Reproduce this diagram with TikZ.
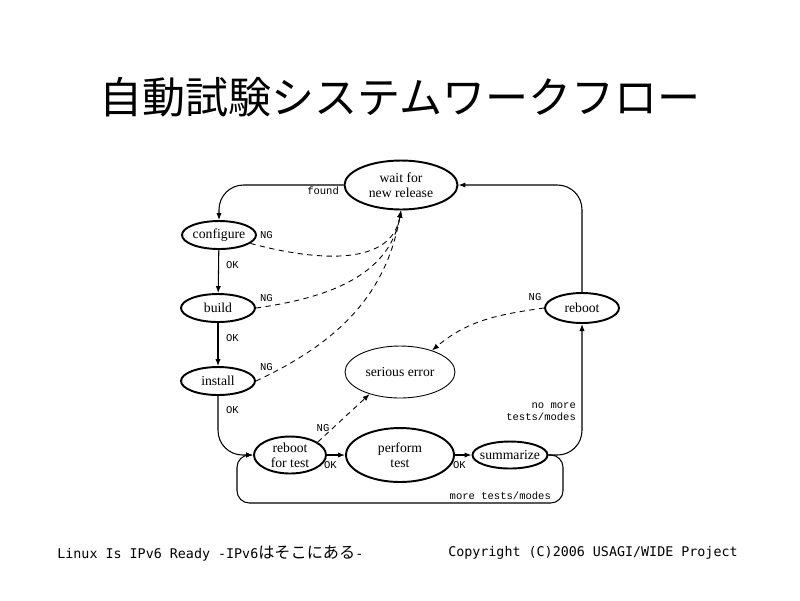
\documentclass[tikz,border=0pt]{standalone}
\usepackage{fontspec}
\setmainfont{Liberation Serif}
\setmonofont{Liberation Mono}
\newfontfamily\cjk{Noto Sans CJK JP}
\newfontfamily\footmono{DejaVu Sans Mono}
\usetikzlibrary{shapes.geometric,arrows.meta}
\tikzset{
  state/.style={ellipse,draw,line width=1.1pt,inner sep=0pt},
  oval/.style n args={2}{minimum width=#1cm,minimum height=#2cm},
  txt/.style={label={[align=center,inner sep=0pt,font=\fontsize{7.8}{8.4}\selectfont]center:#1}},
  flow/.style={->,line width=0.6pt},
  ng/.style={->,line width=0.5pt,dash pattern=on 3pt off 2.5pt},
  tag/.style={font=\ttfamily\fontsize{6}{7}\selectfont,inner sep=1pt}
}
\begin{document}
\begin{tikzpicture}[x=0.02cm,y=-0.02cm,line join=round,>={Latex[length=4pt,width=3pt]}]
\useasboundingbox (0,0) rectangle (800,600);
% title
\node (title) at (400,97) {\cjk\fontsize{24.5}{26}\selectfont 自動試験システムワークフロー};

% states
\node[state,oval={2.26}{0.98},txt={wait for\\new release}] (wait) at (401,185) {};
\node[state,oval={1.48}{0.56},txt={configure}] (configure) at (219,235) {};
\node[state,oval={1.48}{0.56},txt={build}] (build) at (218,308) {};
\node[state,oval={1.48}{0.56},txt={install}] (install) at (218,381) {};
\node[state,oval={2.2}{1.04},line width=0.5pt,txt={serious error}] (serious) at (400,372) {};
\node[state,oval={1.48}{0.6},txt={reboot}] (reboot) at (582,308) {};
\node[state,oval={1.44}{0.74},txt={reboot\\for test}] (rebootT) at (290,455) {};
\node[state,oval={2.16}{1.08},txt={perform\\test}] (perform) at (400,455) {};
\node[state,oval={1.5}{0.54},txt={summarize}] (summarize) at (510,455) {};

% main flow
\draw[flow,rounded corners=14pt] (wait.west) -| (configure.north);
\draw[flow] (configure) -- (build);
\draw[flow] (build) -- (install);
\draw[flow,rounded corners=14pt] (install.south) |- (rebootT.west);
\draw[flow] (rebootT) -- (perform);
\draw[flow] (perform) -- (summarize);
\draw[flow,rounded corners=14pt] (summarize.east) -| (reboot.south);
\draw[flow,rounded corners=14pt] (reboot.north) |- (wait.east);
\draw[flow,rounded corners=7pt] (summarize.east) -| (563,503) -| (237,455) -- (rebootT.west);

% failures
\draw[ng] (configure.-15) to[out=-15,in=-100] (wait.south);
\draw[ng] (build.east) to[out=8,in=-100] (wait.south);
\draw[ng] (install.east) to[out=25,in=-100] (wait.south);
\draw[ng] (rebootT.25) -- (serious.216);
\draw[ng] (reboot.west) to[out=188,in=40] (serious.34);

% labels
\node[tag,anchor=east] (lfound) at (341,191) {found};
\node[tag,anchor=west] (lok1) at (224,265) {OK};
\node[tag,anchor=west] (lok2) at (224,338) {OK};
\node[tag,anchor=west] (lok3) at (224,410) {OK};
\node[tag,anchor=west] (lok4) at (322,465) {OK};
\node[tag,anchor=west] (lok5) at (451,465) {OK};
\node[tag,anchor=west] (lng1) at (258,235) {NG};
\node[tag,anchor=west] (lng2) at (258,298) {NG};
\node[tag,anchor=west] (lng3) at (258,367) {NG};
\node[tag] (lng4) at (323,428) {NG};
\node[tag] (lng5) at (535,297) {NG};
\node[tag,anchor=east,align=right] (lnomore) at (578,412) {no more\\tests/modes};
\node[tag,anchor=east] (lmore) at (553,496) {more tests/modes};

% footer
\node[anchor=west,inner sep=0pt] (footl) at (57,553)
  {\footmono\fontsize{7.6}{9}\selectfont Linux Is IPv6 Ready -IPv6{\cjk\fontsize{9.2}{10}\selectfont はそこにある}-};
\node[anchor=east,inner sep=0pt] (footr) at (738,553)
  {\footmono\fontsize{7.6}{9}\selectfont Copyright (C)2006 USAGI/WIDE Project};
\end{tikzpicture}
\end{document}
